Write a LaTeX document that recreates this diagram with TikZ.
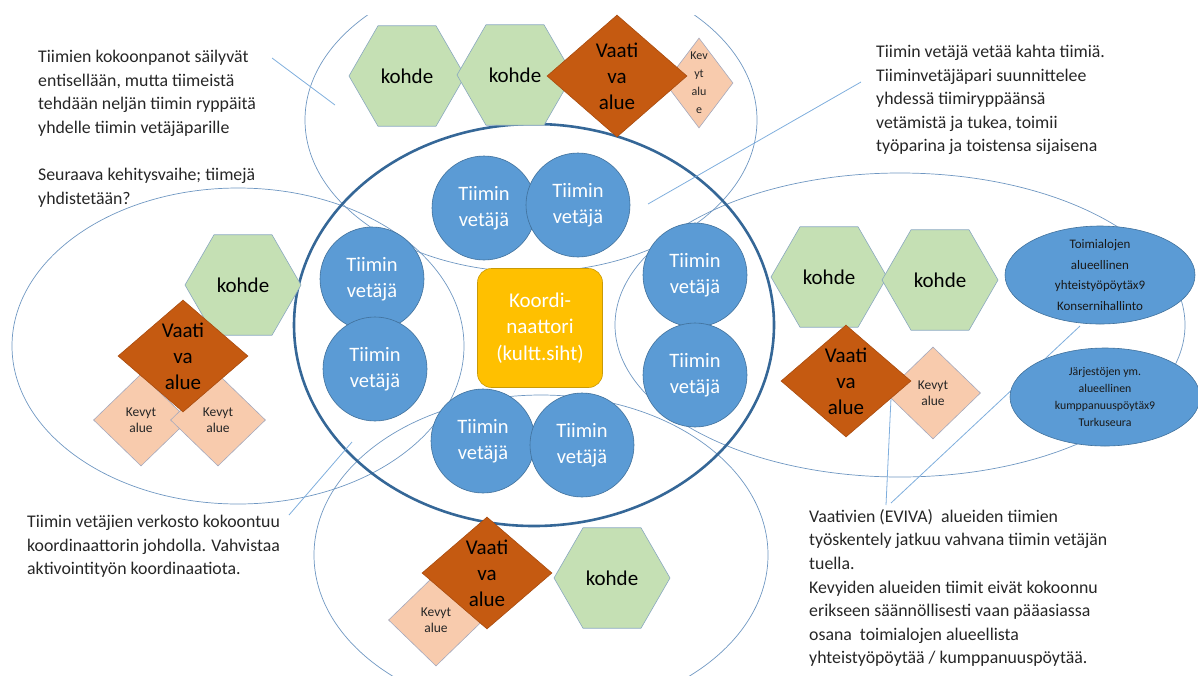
\documentclass[tikz,border=0pt]{standalone}
\usepackage{fontspec}
\setmainfont{Carlito}
\usetikzlibrary{shapes.geometric}
\definecolor{tblue}{HTML}{5B9BD5}
\definecolor{edgeblue}{HTML}{41719C}
\definecolor{ringblue}{HTML}{6F97C2}
\definecolor{darkblue}{HTML}{356797}
\definecolor{hexedge}{HTML}{8AA8C0}
\definecolor{hexgreen}{HTML}{C5E0B4}
\definecolor{vorange}{HTML}{C55A11}
\definecolor{vedge}{HTML}{A84C10}
\definecolor{kpeach}{HTML}{F8CBAD}
\definecolor{kedge}{HTML}{A5A9BD}
\definecolor{kgold}{HTML}{FFC000}
\definecolor{kgoldedge}{HTML}{C99A06}
\definecolor{lineblue}{HTML}{7FAEDD}
\definecolor{txtgray}{HTML}{262626}
\tikzset{
	ring/.style={draw=ringblue, line width=0.7pt},
	bigring/.style={draw=darkblue, line width=2.6pt},
	callout/.style={draw=lineblue, line width=0.8pt},
	vetaja/.style={circle, minimum size=104pt, inner sep=0pt, fill=tblue, draw=edgeblue, line width=0.6pt, text=white, align=center, font=\fontsize{20.5}{26}\selectfont},
	koord/.style={rectangle, rounded corners=14pt, minimum width=125pt, minimum height=119pt, fill=kgold, draw=kgoldedge, line width=0.6pt, text=white, align=center, font=\fontsize{21}{26.5}\selectfont},
	kohde/.style={regular polygon, regular polygon sides=6, minimum size=116pt, inner sep=0pt, fill=hexgreen, draw=hexedge, line width=0.6pt, font=\fontsize{21}{24}\selectfont},
	vaati/.style={diamond, minimum width=130pt, minimum height=112pt, inner sep=0pt, fill=vorange, draw=vedge, line width=0.6pt},
	kevyt/.style={diamond, minimum width=95pt, minimum height=92pt, inner sep=0pt, fill=kpeach, draw=kedge, line width=0.6pt},
	poyta/.style={ellipse, minimum width=190pt, minimum height=98pt, inner sep=0pt, fill=tblue, draw=edgeblue, line width=0.6pt},
	vtxt/.style={align=center, text=black, font=\fontsize{21}{26}\selectfont},
	ktxt/.style={align=center, text=black!85, font=\fontsize{13.5}{16.5}\selectfont},
	ptxt/.style={align=center, text=black!90},
	note/.style={anchor=north west, inner sep=0pt, align=left, text=txtgray, font=\fontsize{17.8}{23.6}\selectfont}
}

\begin{document}
\begin{tikzpicture}[x=1pt, y=-1pt]
		%%%%% START %%%%%
		\useasboundingbox (0,0) rectangle (1198,675);
		
		% cluster rings and the big ring
		\begin{scope}
			\clip (0,15) rectangle (1198,675);
			\draw[ring] (531,120) ellipse (226pt and 152pt);
			\draw[ring] (238,346) ellipse (226pt and 158pt);
			\draw[ring] (900,325) ellipse (285pt and 152pt);
			\draw[ring] (541,555) ellipse (227pt and 160pt);
			\draw[bigring] (534,325) ellipse (240pt and 201pt);
		\end{scope}
		
		% texts
		\node[note] (noteTL) at (38,50) {Tiimien kokoonpanot säilyvät\\entisellään, mutta tiimeistä\\tehdään neljän tiimin ryppäitä\\yhdelle tiimin vetäjäparille\\[23.6pt]Seuraava kehitysvaihe; tiimejä\\yhdistetään?};
		\node[note] (noteTR) at (876,45) {Tiimin vetäjä vetää kahta tiimiä.\\Tiiminvetäjäpari suunnittelee\\yhdessä tiimiryppäänsä\\vetämistä ja tukea, toimii\\työparina ja toistensa sijaisena};
		\node[note] (noteBL) at (27,515) {Tiimin vetäjien verkosto kokoontuu\\koordinaattorin johdolla. Vahvistaa\\aktivointityön koordinaatiota.};
		\node[note] (noteBR) at (809,509) {Vaativien (EVIVA)\ \ alueiden tiimien\\työskentely jatkuu vahvana tiimin vetäjän\\tuella.\\Kevyiden alueiden tiimit eivät kokoonnu\\erikseen säännöllisesti vaan pääasiassa\\osana\ \ toimialojen alueellista\\yhteistyöpöytää / kumppanuuspöytää.};
		
		% callout lines
		\coordinate (tlA) at (272,58);
		\coordinate (tlB) at (335,105);
		\coordinate (trA) at (861,82);
		\coordinate (trB) at (648,204);
		\coordinate (blA) at (289,515);
		\coordinate (blB) at (352,442);
		\coordinate (brA) at (886,505);
		\coordinate (brB) at (891,398);
		\coordinate (brC) at (891,503);
		\coordinate (brD) at (1080,326);
		\draw[callout] (tlA) -- (tlB);
		\draw[callout] (trA) -- (trB);
		\draw[callout] (blA) -- (blB);
		\draw[callout] (brA) -- (brB);
		\draw[callout] (brC) -- (brD);
		
		% top cluster
		\node[kevyt, minimum width=68pt, minimum height=90pt, label={[ktxt, font=\fontsize{12}{18}\selectfont]center:Kev\\yt\\alu\\e}] (kevytT) at (699,83) {};
		\node[kohde] (kohdeT1) at (407,76) {kohde};
		\node[kohde] (kohdeT2) at (515,75) {kohde};
		\node[vaati, minimum width=140pt, minimum height=122pt, label={[vtxt]center:Vaati\\va\\alue}] (vaatiT) at (617,76) {};
		
		% team leaders and coordinator
		\node[vetaja] (vetT1) at (484,208) {Tiimin\\vetäjä};
		\node[vetaja] (vetT2) at (578,205) {Tiimin\\vetäjä};
		\node[vetaja] (vetL1) at (372,279) {Tiimin\\vetäjä};
		\node[vetaja] (vetL2) at (375,369) {Tiimin\\vetäjä};
		\node[vetaja] (vetR1) at (695,275) {Tiimin\\vetäjä};
		\node[vetaja] (vetR2) at (695,375) {Tiimin\\vetäjä};
		\node[vetaja] (vetB1) at (483,441) {Tiimin\\vetäjä};
		\node[vetaja] (vetB2) at (582,445) {Tiimin\\vetäjä};
		\node[koord] (koordinaattori) at (540,328) {Koordi-\\naattori\\(kultt.siht)};
		
		% left cluster
		\node[kohde] (kohdeL) at (243,285) {kohde};
		\node[kevyt, label={[ktxt]center:Kevyt\\alue}] (kevytL1) at (141,420) {};
		\node[kevyt, label={[ktxt]center:Kevyt\\alue}] (kevytL2) at (218,420) {};
		\node[vaati, label={[vtxt]center:Vaati\\va\\alue}] (vaatiL) at (183,356) {};
		
		% right cluster
		\node[kohde] (kohdeR1) at (829,277) {kohde};
		\node[kohde] (kohdeR2) at (940,280) {kohde};
		\node[kevyt, label={[ktxt]center:Kevyt\\alue}] (kevytR) at (933,393) {};
		\node[vaati, label={[vtxt]center:Vaati\\va\\alue}] (vaatiR) at (846,381) {};
		
		% bottom cluster
		\node[kevyt, label={[ktxt]center:Kevyt\\alue}] (kevytB) at (436,620) {};
		\node[vaati, label={[vtxt]center:Vaati\\va\\alue}] (vaatiB) at (487,573) {};
		\node[kohde] (kohdeB) at (612,578) {kohde};
		
		% regional tables
		\node[poyta, label={[ptxt, font=\fontsize{13}{20.5}\selectfont]center:Toimialojen\\alueellinen\\yhteistyöpöytäx9\\Konsernihallinto}] (toimi) at (1100,275) {};
		\node[poyta, label={[ptxt, font=\fontsize{11.8}{17}\selectfont]center:Järjestöjen ym.\\alueellinen\\kumppanuuspöytäx9\\Turkuseura}] (jarj) at (1105,397) {};
		
		%%%%% END %%%%%
\end{tikzpicture}
\end{document}
